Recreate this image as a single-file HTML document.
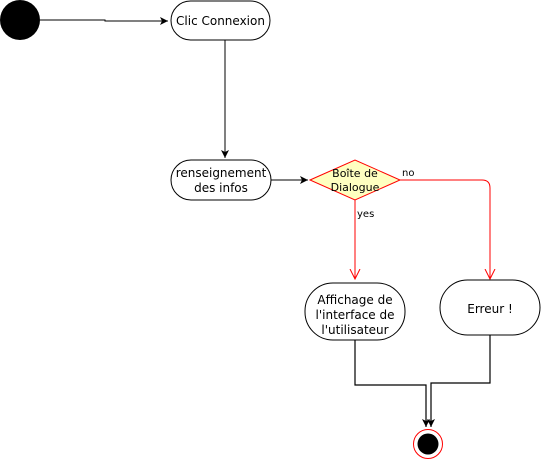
<!DOCTYPE html>
<html><head><style>html,body{margin:0;padding:0;background:#fff}svg{display:block}</style></head>
<body>
<svg width="541" height="461" xmlns="http://www.w3.org/2000/svg" font-family="'DejaVu Sans','Liberation Sans',sans-serif" font-size="12">
<defs>
<marker id="ab" markerWidth="10" markerHeight="10" refX="8" refY="5" orient="auto" markerUnits="userSpaceOnUse"><path d="M0,1 L8,5 L0,9 L2,5 Z" fill="#000"/></marker>
<marker id="ar" markerWidth="12" markerHeight="12" refX="10" refY="6" orient="auto" markerUnits="userSpaceOnUse"><path d="M0,1 L10,6 L0,11" fill="none" stroke="#f00"/></marker>
</defs>
<circle cx="20" cy="20" r="20" fill="#000"/>
<path d="M40,20 H105 V21 H168" stroke="#000" fill="none" marker-end="url(#ab)"/>
<rect x="171" y="1" width="99" height="39" rx="19.5" fill="#fff" stroke="#000"/>
<text x="220.5" y="25" text-anchor="middle">Clic Connexion</text>
<path d="M225,40 V158" stroke="#000" marker-end="url(#ab)"/>
<rect x="171" y="160" width="100" height="40" rx="20" fill="#fff" stroke="#000"/>
<text x="221" y="177" text-anchor="middle">renseignement</text>
<text x="221" y="192" text-anchor="middle">des infos</text>
<path d="M271,180 H308" stroke="#000" marker-end="url(#ab)"/>
<polygon points="310,180 355,160 400,180 355,200" fill="#ffffc0" stroke="#f00"/>
<text x="355" y="177" text-anchor="middle" font-size="11">Boîte de</text>
<text x="355" y="191" text-anchor="middle" font-size="11">Dialogue</text>
<text x="402" y="176" font-size="10">no</text>
<text x="357" y="217" font-size="10">yes</text>
<path d="M400,180 H482 Q490,180 490,188 V279" stroke="#f00" fill="none" marker-end="url(#ar)"/>
<path d="M355,200 V279" stroke="#f00" fill="none" marker-end="url(#ar)"/>
<rect x="305" y="283" width="100" height="57" rx="28" fill="#fff" stroke="#000"/>
<text x="355" y="304" text-anchor="middle">Affichage de</text>
<text x="355" y="319" text-anchor="middle">l'interface de</text>
<text x="355" y="334" text-anchor="middle">l'utilisateur</text>
<rect x="440" y="280" width="100" height="55" rx="27.5" fill="#fff" stroke="#000"/>
<text x="490" y="313" text-anchor="middle">Erreur !</text>
<path d="M355,340 V385 H426 V427" stroke="#000" fill="none" stroke-width="1.2" marker-end="url(#ab)"/>
<path d="M490,335 V383 H431 V427" stroke="#000" fill="none" stroke-width="1.2" marker-end="url(#ab)"/>
<circle cx="428" cy="444" r="14.5" fill="#fff" stroke="#f00"/>
<circle cx="428" cy="444" r="10.5" fill="#000"/>
</svg>
</body></html>
